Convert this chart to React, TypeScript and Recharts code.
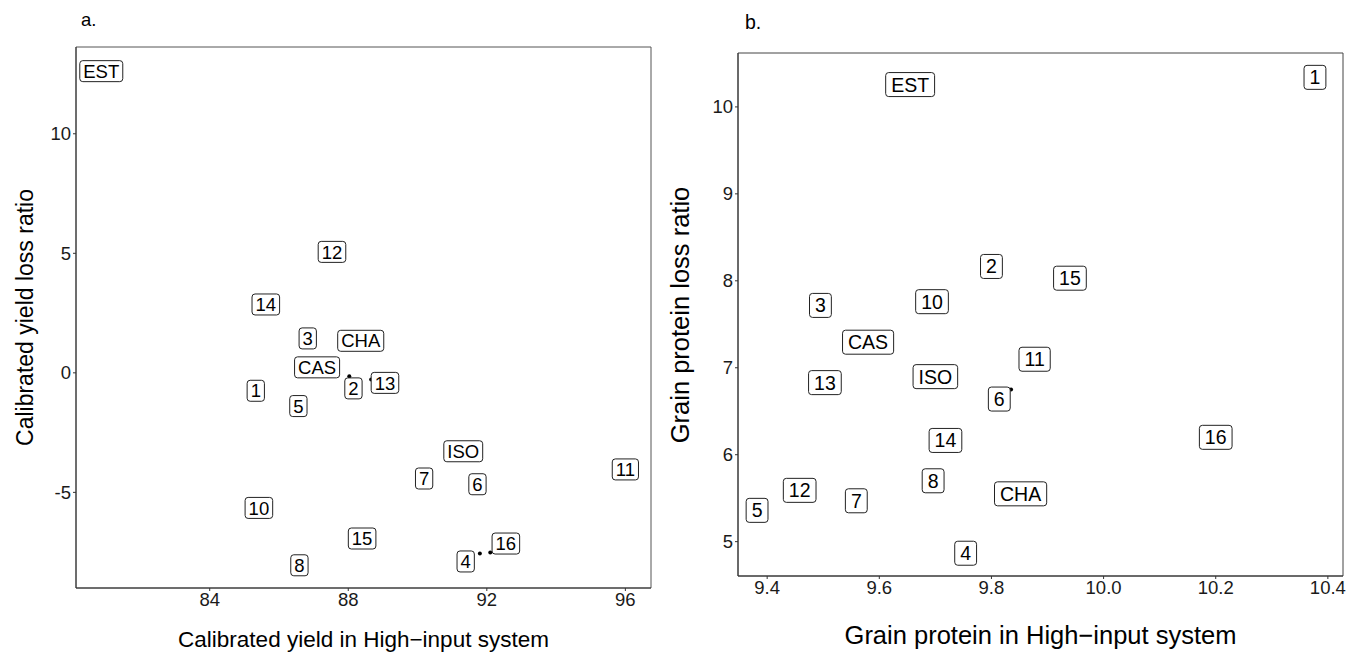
import React from 'react';
import { ScatterChart, Scatter, XAxis, YAxis, ReferenceArea } from 'recharts';

// ---------- Panel a: calibrated yield ----------
const aNames = ['EST', '12', '14', '3', 'CHA', 'CAS', '2', '13', '1', '5', 'ISO', '7', '6', '11', '10', '15', '16', '4', '8'];
const aYield = [80.87, 87.53, 85.62, 86.83, 88.36, 87.1, 88.03, 88.66, 85.33, 86.56, 91.32, 90.19, 91.73, 96.0, 85.42, 88.4, 92.1, 91.8, 86.59];
const aLoss = [12.62, 5.06, 2.86, 1.44, 1.34, 0.23, -0.14, -0.28, -0.75, -1.39, -3.28, -4.42, -4.66, -4.04, -5.65, -6.93, -7.52, -7.56, -8.05];
const aLabelYield = [80.87, 87.53, 85.62, 86.83, 88.36, 87.1, 88.15, 89.06, 85.33, 86.56, 91.32, 90.19, 91.73, 96.0, 85.42, 88.4, 92.55, 91.39, 86.59];
const aLabelLoss = [12.62, 5.06, 2.86, 1.44, 1.34, 0.23, -0.65, -0.42, -0.75, -1.39, -3.28, -4.42, -4.66, -4.04, -5.65, -6.93, -7.14, -7.89, -8.05];
const aXTicks = [84, 88, 92, 96];
const aYTicks = [-5, 0, 5, 10];
const aXDomain = [80.14, 96.74];
const aYDomain = [-9.0, 13.63];

// ---------- Panel b: grain protein ----------
const bNames = ['EST', '1', '2', '15', '10', '3', 'CAS', '11', 'ISO', '13', '6', '14', '16', '8', '12', 'CHA', '7', '5', '4'];
const bProtein = [9.655, 10.377, 9.8, 9.94, 9.694, 9.495, 9.58, 9.877, 9.7, 9.503, 9.835, 9.718, 10.2, 9.696, 9.458, 9.852, 9.559, 9.382, 9.754];
const bLoss = [10.257, 10.34, 8.165, 8.03, 7.76, 7.717, 7.294, 7.098, 6.898, 6.829, 6.75, 6.164, 6.2, 5.7, 5.59, 5.55, 5.47, 5.36, 4.867];
const bLabelProtein = [9.655, 10.377, 9.8, 9.94, 9.694, 9.495, 9.58, 9.877, 9.7, 9.503, 9.814, 9.718, 10.2, 9.696, 9.458, 9.852, 9.559, 9.382, 9.754];
const bLabelLoss = [10.257, 10.34, 8.165, 8.03, 7.76, 7.717, 7.294, 7.098, 6.898, 6.829, 6.64, 6.164, 6.2, 5.7, 5.59, 5.55, 5.47, 5.36, 4.867];
const bXTicks = [9.4, 9.6, 9.8, 10.0, 10.2, 10.4];
const bYTicks = [5, 6, 7, 8, 9, 10];
const bXDomain = [9.348, 10.427];
const bYDomain = [4.605, 10.62];

const FONT = '"Liberation Sans", Arial, Helvetica, sans-serif';

let ctx: CanvasRenderingContext2D | null = null;
const measure = (t: string, size: number) => {
  if (!ctx) ctx = document.createElement('canvas').getContext('2d');
  if (!ctx) return t.length * size * 0.55;
  ctx.font = `${size}px ${FONT}`;
  return ctx.measureText(t).width;
};

const makeLabel = (fs: number, h: number, pad: number) => (props: any) => {
  const { cx, cy, payload } = props;
  if (cx == null || cy == null) return <g />;
  const w = measure(payload.name, fs) + pad * 2;
  return (
    <g>
      <rect x={cx - w / 2} y={cy - h / 2} width={w} height={h} rx={3} ry={3} fill="#ffffff" stroke="#222222" strokeWidth={1} />
      <text x={cx} y={cy + fs * 0.358} textAnchor="middle" fontSize={fs} fontFamily={FONT} fill="#000000">
        {payload.name}
      </text>
    </g>
  );
};

const dot = (props: any) => {
  const { cx, cy } = props;
  if (cx == null || cy == null) return <g />;
  return <circle cx={cx} cy={cy} r={2} fill="#000000" />;
};

const aPoints = aNames.map((n, i) => ({ name: n, x: aYield[i], y: aLoss[i] }));
const aLabels = aNames.map((n, i) => ({ name: n, x: aLabelYield[i], y: aLabelLoss[i] }));
const bPoints = bNames.map((n, i) => ({ name: n, x: bProtein[i], y: bLoss[i] }));
const bLabels = bNames.map((n, i) => ({ name: n, x: bLabelProtein[i], y: bLabelLoss[i] }));

const tickStyle = { fontSize: 18.5, fill: '#1a1a1a', fontFamily: FONT };

export default function App() {
  return (
    <div style={{ position: 'absolute', left: 0, top: 0, width: 1361, height: 653, background: '#ffffff', fontFamily: FONT }}>
      <div style={{ position: 'absolute', left: 0, top: 0 }}>
        <ScatterChart width={680} height={653} margin={{ top: 47, right: 29, bottom: 35, left: 16 }}>
          <XAxis
            type="number"
            dataKey="x"
            domain={aXDomain}
            ticks={aXTicks}
            allowDataOverflow
            height={30}
            tickSize={3}
            tickMargin={2}
            tick={tickStyle}
            axisLine={{ stroke: '#333333' }}
            tickLine={{ stroke: '#333333' }}
          />
          <YAxis
            type="number"
            dataKey="y"
            domain={aYDomain}
            ticks={aYTicks}
            allowDataOverflow
            width={60}
            tickSize={3}
            tickMargin={2}
            tick={tickStyle}
            axisLine={{ stroke: '#333333' }}
            tickLine={{ stroke: '#333333' }}
          />
          <ReferenceArea x1={aXDomain[0]} x2={aXDomain[1]} y1={aYDomain[0]} y2={aYDomain[1]} fill="none" stroke="#555555" strokeWidth={1} ifOverflow="visible" />
          <Scatter data={aPoints} shape={dot} isAnimationActive={false} />
          <Scatter data={aLabels} shape={makeLabel(18.5, 21, 3.5)} isAnimationActive={false} />
        </ScatterChart>
      </div>
      <div style={{ position: 'absolute', left: 680, top: 0 }}>
        <ScatterChart width={681} height={653} margin={{ top: 53, right: 18, bottom: 47, left: 8 }}>
          <XAxis
            type="number"
            dataKey="x"
            domain={bXDomain}
            ticks={bXTicks}
            allowDataOverflow
            height={30}
            tickSize={3}
            tickMargin={2}
            tick={tickStyle}
            tickFormatter={(v: number) => v.toFixed(1)}
            axisLine={{ stroke: '#333333' }}
            tickLine={{ stroke: '#333333' }}
          />
          <YAxis
            type="number"
            dataKey="y"
            domain={bYDomain}
            ticks={bYTicks}
            allowDataOverflow
            width={50}
            tickSize={3}
            tickMargin={2}
            tick={tickStyle}
            axisLine={{ stroke: '#333333' }}
            tickLine={{ stroke: '#333333' }}
          />
          <ReferenceArea x1={bXDomain[0]} x2={bXDomain[1]} y1={bYDomain[0]} y2={bYDomain[1]} fill="none" stroke="#444444" strokeWidth={1} ifOverflow="visible" />
          <Scatter data={bPoints} shape={dot} isAnimationActive={false} />
          <Scatter data={bLabels} shape={makeLabel(19.5, 24, 5.5)} isAnimationActive={false} />
        </ScatterChart>
      </div>
      <svg width={1361} height={653} style={{ position: 'absolute', left: 0, top: 0, pointerEvents: 'none' }}>
        <text x={81} y={26} fontSize={18.5} fontFamily={FONT} fill="#000">a.</text>
        <text x={745} y={29} fontSize={19.5} fontFamily={FONT} fill="#000">b.</text>
        <text x={363.5} y={647} fontSize={22.5} fontFamily={FONT} fill="#000" textAnchor="middle">
          Calibrated yield in High−input system
        </text>
        <text transform="translate(33,317.5) rotate(-90)" x={0} y={0} fontSize={23} fontFamily={FONT} fill="#000" textAnchor="middle">
          Calibrated yield loss ratio
        </text>
        <text x={1040.5} y={643.5} fontSize={25.5} fontFamily={FONT} fill="#000" textAnchor="middle">
          Grain protein in High−input system
        </text>
        <text transform="translate(689,315) rotate(-90)" x={0} y={0} fontSize={25.5} fontFamily={FONT} fill="#000" textAnchor="middle">
          Grain protein loss ratio
        </text>
      </svg>
    </div>
  );
}
